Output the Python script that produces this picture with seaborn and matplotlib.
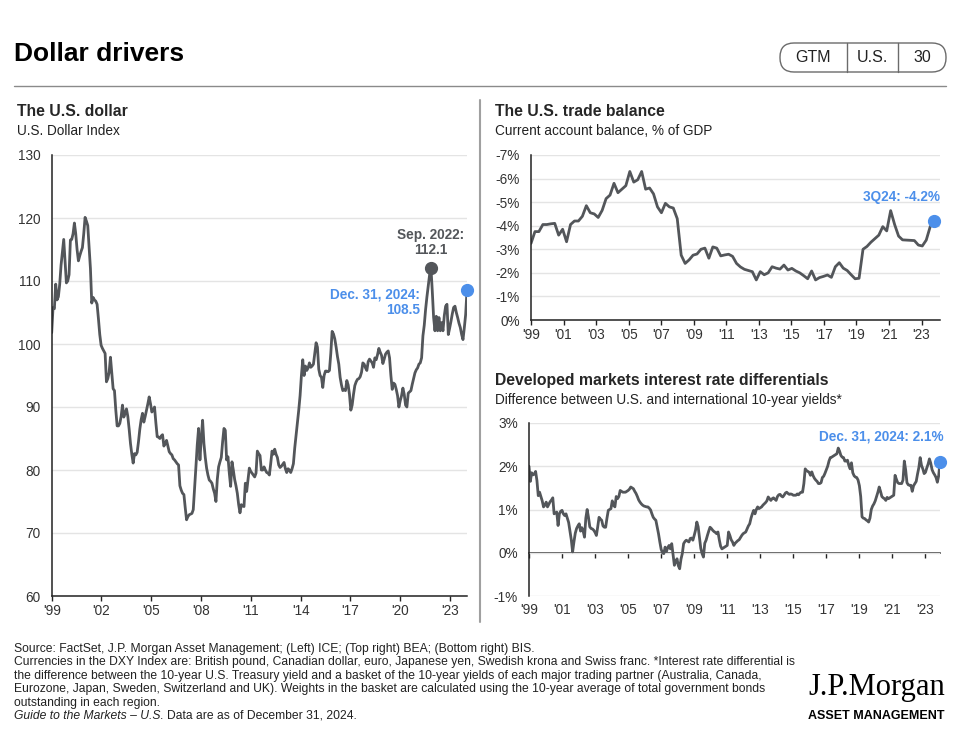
import numpy as np
import pandas as pd
import matplotlib
matplotlib.use("Agg")
import matplotlib.pyplot as plt
import seaborn as sns
from matplotlib import font_manager
from matplotlib.patches import FancyBboxPatch
from matplotlib.lines import Line2D
from matplotlib.transforms import IdentityTransform

# ---------------- data ----------------
# U.S. Dollar Index, monthly, Jan 1999 - Dec 2024
dxy = [101.8, 105.8, 105.6, 109.5, 107.0, 107.5, 109.5, 112.5, 114.5, 116.6,
       113.0, 109.7, 110.0, 111.0, 116.5, 116.6, 117.5, 119.2, 117.5, 115.0,
       113.2, 114.0, 114.7, 115.3, 117.5, 120.1, 119.5, 118.8, 115.5, 112.0,
       106.5, 107.4, 107.0, 106.8, 106.3, 104.0, 101.5, 99.8, 99.3, 98.9,
       98.5, 94.0, 94.5, 95.5, 97.9, 95.5, 92.9, 92.6, 89.5, 87.0,
       87.0, 87.4, 88.5, 90.3, 88.4, 89.0, 89.7, 88.5, 86.5, 84.2,
       82.5, 81.1, 82.6, 82.4, 82.8, 84.5, 86.5, 88.0, 89.0, 87.6,
       88.5, 89.5, 90.5, 91.6, 90.5, 89.2, 89.5, 90.0, 87.5, 85.3,
       85.2, 85.0, 85.4, 85.6, 83.8, 84.2, 84.7, 83.8, 82.9, 82.6,
       82.4, 81.8, 81.6, 81.3, 81.0, 80.8, 77.5, 76.8, 76.3, 76.1,
       74.0, 72.1, 72.6, 72.9, 73.0, 73.1, 73.7, 77.0, 80.5, 84.0,
       86.6, 81.6, 85.0, 87.9, 84.2, 82.0, 80.3, 79.2, 78.4, 78.2,
       77.9, 77.0, 76.3, 75.0, 78.5, 80.5, 81.3, 82.0, 84.5, 86.6,
       86.3, 81.6, 82.1, 79.5, 77.4, 81.3, 80.0, 78.5, 77.5, 76.3,
       74.5, 73.2, 74.5, 74.3, 74.2, 77.9, 76.6, 78.5, 80.3, 79.8,
       79.5, 79.2, 78.9, 79.5, 83.0, 82.6, 82.3, 80.0, 80.0, 80.5,
       80.0, 79.6, 79.5, 79.2, 81.0, 83.0, 82.5, 83.3, 82.5, 82.0,
       80.8, 80.4, 80.6, 80.9, 81.2, 80.2, 79.6, 80.2, 80.0, 79.6,
       80.2, 81.0, 83.5, 85.5, 87.5, 89.5, 91.8, 95.0, 97.5, 95.0,
       96.5, 95.8, 96.2, 97.0, 96.3, 96.5, 96.8, 98.5, 100.2, 99.5,
       96.0, 95.0, 94.7, 93.1, 95.0, 95.7, 95.7, 95.6, 95.8, 98.5,
       102.0, 101.6, 100.8, 99.5, 98.0, 96.8, 94.7, 93.5, 92.6, 92.8,
       92.6, 94.2, 93.5, 92.0, 89.5, 90.3, 92.0, 93.4, 94.0, 94.4,
       94.5, 94.8, 95.5, 97.0, 96.8, 96.2, 95.8, 97.2, 97.6, 97.3,
       97.0, 96.3, 97.8, 97.5, 98.3, 99.3, 98.7, 98.2, 96.9, 97.6,
       98.4, 98.7, 98.9, 97.8, 95.0, 92.8, 93.8, 93.6, 92.8, 91.8,
       90.0, 91.0, 91.8, 93.0, 92.0, 90.3, 90.0, 92.2, 92.4, 92.6,
       93.6, 94.5, 95.4, 95.9, 96.2, 96.8, 97.0, 97.8, 101.3, 103.0,
       105.5, 107.5, 109.2, 111.0, 112.1, 108.4, 104.2, 102.1, 104.4, 102.1,
       104.2, 102.1, 103.4, 102.1, 104.5, 106.0, 106.3, 101.5, 102.5, 103.6,
       104.8, 105.8, 106.0, 105.0, 104.2, 103.3, 102.6, 101.5, 100.7, 102.6,
       104.7, 108.5]
dxy_start = "1999-01"
dxy_peak_month = "2022-09"

# Current account balance, % of GDP, quarterly, 1Q99 - 3Q24
trade = [-3.25, -3.75, -3.75, -4.05, -4.05, -4.08, -4.1, -3.6, -3.85, -3.32,
         -4.05, -4.2, -4.2, -4.4, -4.85, -4.55, -4.5, -4.35, -4.65, -5.15,
         -5.3, -5.8, -5.4, -5.55, -5.7, -6.3, -5.85, -5.95, -6.3, -5.55,
         -5.6, -5.35, -4.8, -4.55, -4.95, -4.8, -4.75, -4.3, -2.75, -2.4,
         -2.55, -2.75, -2.8, -3.0, -3.05, -2.62, -3.1, -3.05, -2.72, -2.76,
         -2.79, -2.7, -2.4, -2.25, -2.15, -2.1, -2.05, -1.7, -2.05, -1.92,
         -2.0, -2.26, -2.2, -2.16, -2.33, -2.12, -2.19, -2.08, -2.0, -1.88,
         -1.75, -2.08, -1.7, -1.8, -1.85, -1.91, -1.81, -2.26, -2.43, -2.2,
         -2.1, -1.92, -1.75, -1.77, -3.0, -3.12, -3.3, -3.45, -3.6, -3.96,
         -3.78, -4.64, -4.05, -3.56, -3.4, -3.39, -3.38, -3.37, -3.18, -3.14,
         -3.39, -3.96, -4.2]
trade_start = "1999Q1"

# U.S. minus international 10-year yields, %, monthly, Jan 1999 - Dec 2024
rates = [2.0, 1.65, 1.85, 1.8, 1.82, 1.88, 1.67, 1.32, 1.4, 1.3,
         1.2, 1.06, 1.1, 1.17, 1.06, 1.12, 1.18, 1.22, 1.27, 0.9,
         0.92, 0.94, 0.63, 0.9, 0.96, 0.98, 0.9, 0.86, 0.9, 0.8,
         0.7, 0.5, 0.3, 0.02, 0.25, 0.45, 0.56, 0.62, 0.67, 0.5,
         0.58, 0.5, 0.36, 0.8, 1.0, 0.82, 0.6, 0.56, 0.55, 0.52,
         0.47, 0.4, 0.6, 0.82, 0.78, 0.75, 0.62, 0.59, 0.59, 0.8,
         0.98, 1.0, 1.02, 1.2, 1.1, 1.06, 1.3, 1.25, 1.3, 1.44,
         1.42, 1.4, 1.4, 1.4, 1.42, 1.44, 1.47, 1.52, 1.5, 1.48,
         1.42, 1.37, 1.3, 1.22, 1.17, 1.13, 1.1, 1.08, 1.07, 1.06,
         1.06, 1.03, 0.99, 0.9, 0.82, 0.78, 0.75, 0.6, 0.44, 0.25,
         0.08, 0.0, -0.02, 0.13, 0.03, 0.12, 0.17, 0.09, 0.21, -0.05,
         -0.29, -0.2, -0.14, -0.3, -0.37, -0.15, -0.02, 0.21, 0.26, 0.29,
         0.27, 0.25, 0.33, 0.34, 0.29, 0.4, 0.52, 0.71, 0.6, 0.35,
         0.1, -0.02, -0.1, 0.22, 0.29, 0.4, 0.5, 0.59, 0.56, 0.52,
         0.49, 0.47, 0.44, 0.48, 0.3, 0.15, 0.09, 0.11, 0.13, 0.15,
         0.17, 0.48, 0.4, 0.3, 0.25, 0.17, 0.22, 0.25, 0.28, 0.3,
         0.35, 0.4, 0.44, 0.46, 0.48, 0.55, 0.62, 0.67, 0.8, 0.9,
         0.98, 0.9, 1.0, 1.06, 1.02, 1.04, 1.06, 1.1, 1.13, 1.16,
         1.2, 1.29, 1.25, 1.21, 1.25, 1.27, 1.24, 1.21, 1.3, 1.34,
         1.35, 1.31, 1.29, 1.33, 1.38, 1.4, 1.37, 1.35, 1.36, 1.35,
         1.33, 1.33, 1.33, 1.36, 1.34, 1.38, 1.4, 1.4, 1.6, 1.94,
         1.9, 1.88, 1.86, 1.79, 1.87, 1.78, 1.72, 1.68, 1.65, 1.6,
         1.6, 1.62, 1.74, 1.77, 1.84, 1.92, 2.0, 2.12, 2.2, 2.21,
         2.23, 2.25, 2.27, 2.29, 2.42, 2.35, 2.25, 2.21, 2.2, 2.12,
         2.12, 2.14, 2.02, 1.94, 2.08, 1.85, 1.78, 1.75, 1.74, 1.68,
         1.55, 1.3, 0.83, 0.8, 0.79, 0.76, 0.74, 0.71, 0.8, 1.0,
         1.08, 1.13, 1.2, 1.3, 1.4, 1.52, 1.42, 1.3, 1.27, 1.25,
         1.21, 1.28, 1.25, 1.27, 1.29, 1.31, 1.33, 1.79, 1.7, 1.62,
         1.6, 1.6, 1.6, 1.68, 2.12, 1.92, 1.62, 1.57, 1.56, 1.56,
         1.42, 1.55, 1.6, 1.65, 1.82, 1.97, 2.2, 2.02, 1.94, 1.83,
         1.86, 1.96, 2.05, 2.17, 2.07, 1.92, 1.85, 1.8, 1.74, 1.63,
         1.78, 2.1]
rates_start = "1999-01"

year_labels_3 = ["'99", "'02", "'05", "'08", "'11", "'14", "'17", "'20", "'23"]
year_labels_2 = ["'99", "'01", "'03", "'05", "'07", "'09", "'11", "'13",
                 "'15", "'17", "'19", "'21", "'23"]

assert len(dxy) == 312 and len(rates) == 312 and len(trade) == 103

# ---------------- frames ----------------
def month_frame(values, start):
    d = pd.period_range(start, periods=len(values), freq="M")
    return pd.DataFrame({"period": d.astype(str),
                         "t": d.year + (d.month - 1) / 12, "v": values})

dxy_df = month_frame(dxy, dxy_start)
rates_df = month_frame(rates, rates_start)
q = pd.period_range(trade_start, periods=len(trade), freq="Q")
trade_df = pd.DataFrame({"t": q.year + (q.quarter - 1) / 4, "v": trade})

# ---------------- style ----------------
def has_font(name):
    try:
        font_manager.findfont(name, fallback_to_default=False)
        return True
    except Exception:
        return False

sns.set_theme(style="white")
plt.rcParams["font.family"] = ["Liberation Sans", "DejaVu Sans"]
NARROW = "Liberation Sans Narrow" if has_font("Liberation Sans Narrow") else "Liberation Sans"
SERIF = "Liberation Serif"

LINE = "#53565a"
BLUE = "#4c8fea"
GRID = "#e4e4e4"
DARK = "#222222"
TICK = "#333333"

W, H = 960, 749
fig = plt.figure(figsize=(9.6, 7.49), dpi=100)
fig.patch.set_facecolor("white")


def fx(x):
    return x / W


def fy(y):
    return 1 - y / H


def style(ax):
    for s in ["top", "right"]:
        ax.spines[s].set_visible(False)
    for s in ["left", "bottom"]:
        ax.spines[s].set_color(DARK)
        ax.spines[s].set_linewidth(1.1)
    ax.grid(axis="y", color=GRID, lw=1)
    ax.grid(axis="x", visible=False)
    ax.tick_params(axis="y", length=0, pad=8, labelsize=9.8, labelcolor=TICK)
    ax.tick_params(axis="x", length=3.5, width=1, color=DARK, direction="out",
                   pad=2, labelsize=9.8, labelcolor=TICK, bottom=True)
    ax.set_xlabel("")
    ax.set_ylabel("")


# ---------------- left: U.S. dollar ----------------
ax1 = fig.add_axes([fx(51.7), fy(596), fx(467 - 51.7), (596 - 155) / H])
sns.lineplot(data=dxy_df, x="t", y="v", ax=ax1, color=LINE, linewidth=2.0)
style(ax1)
ax1.set_ylim(60, 130)
ax1.set_yticks(range(60, 131, 10))
ax1.set_xlim(dxy_df.t.iloc[0], dxy_df.t.iloc[-1])
ax1.set_xticks(np.linspace(1999, 2023.85, len(year_labels_3)))
ax1.set_xticklabels(year_labels_3)

peak = dxy_df[dxy_df.period == dxy_peak_month].iloc[0]
last = dxy_df.iloc[-1]
ax1.plot(peak.t, peak.v, "o", color=LINE, ms=8.5, clip_on=False, zorder=5)
ax1.plot(last.t, last.v, "o", color=BLUE, ms=8.5, clip_on=False, zorder=5)
ax1.annotate(f"Sep. 2022:\n{peak.v:.1f}", (peak.t, peak.v), xytext=(0, 7.5),
             textcoords="offset points", ha="center", va="bottom",
             fontsize=9.8, fontweight="bold", color=LINE, linespacing=1.15)
ax1.annotate(f"Dec. 31, 2024:\n{last.v:.1f}", (last.t, last.v),
             xytext=(-34, 2), textcoords="offset points", ha="right",
             va="top", fontsize=9.8, fontweight="bold", color=BLUE,
             linespacing=1.15)

# ---------------- top right: trade balance ----------------
ax2 = fig.add_axes([fx(531), fy(320), fx(940 - 531), (320 - 155) / H])
sns.lineplot(data=trade_df, x="t", y="v", ax=ax2, color=LINE, linewidth=2.0)
style(ax2)
ax2.set_ylim(0, -7)
ax2.set_yticks(range(0, -8, -1))
ax2.set_yticklabels([f"{v}%" for v in range(0, -8, -1)])
ax2.set_xlim(trade_df.t.iloc[0], trade_df.t.iloc[-1] + 0.37)
ax2.set_xticks(np.linspace(1999, 2023.7, len(year_labels_2)))
ax2.set_xticklabels(year_labels_2)
tl = trade_df.iloc[-1]
ax2.plot(tl.t, tl.v, "o", color=BLUE, ms=8.5, clip_on=False, zorder=5)
ax2.annotate(f"3Q24: {tl.v:.1f}%", (tl.t, tl.v), xytext=(4.5, 17),
             textcoords="offset points", ha="right", va="center",
             fontsize=9.8, fontweight="bold", color=BLUE)

# ---------------- bottom right: rate differentials ----------------
ax3 = fig.add_axes([fx(529), fy(596), fx(940 - 529), (596 - 423) / H])
sns.lineplot(data=rates_df, x="t", y="v", ax=ax3, color=LINE, linewidth=2.0)
style(ax3)
ax3.set_ylim(-1, 3)
ax3.set_yticks(range(-1, 4))
ax3.set_yticklabels([f"{v}%" for v in range(-1, 4)])
ax3.set_xlim(rates_df.t.iloc[0], rates_df.t.iloc[-1])
ticks3 = np.linspace(1999, 2024.0, len(year_labels_2))
ax3.set_xticks(ticks3)
ax3.set_xticklabels(year_labels_2)
ax3.spines["bottom"].set_visible(False)
ax3.tick_params(axis="x", length=0, pad=5)
zero = ax3.secondary_xaxis(0.25)
zero.set_xticks(ticks3)
zero.tick_params(axis="x", length=3.5, width=1, color=DARK, labelbottom=False)
zero.spines["bottom"].set_color(DARK)
zero.spines["bottom"].set_linewidth(1.1)
rl = rates_df.iloc[-1]
ax3.plot(rl.t, rl.v, "o", color=BLUE, ms=8.5, clip_on=False, zorder=5)
ax3.annotate(f"Dec. 31, 2024: {rl.v:.1f}%", (rl.t, rl.v), xytext=(2.5, 18),
             textcoords="offset points", ha="right", va="center",
             fontsize=9.8, fontweight="bold", color=BLUE)

# ---------------- page furniture ----------------
fig.text(fx(14), fy(54), "Dollar drivers", fontsize=19, fontweight="bold",
         color="black", va="center")
fig.add_artist(Line2D([fx(14), fx(946)], [fy(86), fy(86)], color="#8a8a8a", lw=1))
fig.add_artist(Line2D([fx(480), fx(480)], [fy(100), fy(622)], color="#a0a0a0", lw=1.5))

box = FancyBboxPatch((780, H - 72), 166, 29, boxstyle="round,pad=0,rounding_size=14",
                     transform=IdentityTransform(), facecolor="white",
                     edgecolor="#6b6b6b", lw=1)
fig.add_artist(box)
for xd in (847, 898):
    fig.add_artist(Line2D([fx(xd), fx(xd)], [fy(43), fy(72)], color="#6b6b6b", lw=1))
for xc, s in ((813, "GTM"), (872, "U.S."), (922, "30")):
    fig.text(fx(xc), fy(58), s, fontsize=11.5, ha="center", va="center", color=DARK)

fig.text(fx(17), fy(112), "The U.S. dollar", fontsize=11.3, fontweight="bold", va="center")
fig.text(fx(17), fy(131), "U.S. Dollar Index", fontsize=9.8, va="center", color=DARK)
fig.text(fx(495), fy(112), "The U.S. trade balance", fontsize=11.3, fontweight="bold", va="center")
fig.text(fx(495), fy(131), "Current account balance, % of GDP", fontsize=9.8,
         va="center", color=DARK)
fig.text(fx(495), fy(381), "Developed markets interest rate differentials", fontsize=11.3,
         fontweight="bold", va="center")
fig.text(fx(495), fy(400), "Difference between U.S. and international 10-year yields*",
         fontsize=9.8, va="center", color=DARK)

footer = [
    "Source: FactSet, J.P. Morgan Asset Management; (Left) ICE; (Top right) BEA; (Bottom right) BIS.",
    "Currencies in the DXY Index are: British pound, Canadian dollar, euro, Japanese yen, Swedish krona and Swiss franc. *Interest rate differential is",
    "the difference between the 10-year U.S. Treasury yield and a basket of the 10-year yields of each major trading partner (Australia, Canada,",
    "Eurozone, Japan, Sweden, Switzerland and UK). Weights in the basket are calculated using the 10-year average of total government bonds",
    "outstanding in each region.",
]
for i, line in enumerate(footer):
    fig.text(fx(14), fy(649 + 13.4 * i), line, fontsize=8.7, family=NARROW,
             va="center", color=DARK)
gt = fig.text(fx(14), fy(649 + 13.4 * 5), "Guide to the Markets \u2013 U.S.", fontsize=8.7,
              family=NARROW, style="italic", va="center", color=DARK)
renderer = fig.canvas.get_renderer()
bb = gt.get_window_extent(renderer)
fig.text(fx(bb.x1 + 3), fy(649 + 13.4 * 5), "Data are as of December 31, 2024.",
         fontsize=8.7, family=NARROW, va="center", color=DARK)

fig.text(fx(808), fy(688), "J.P.Morgan", fontsize=22, family=SERIF, va="center", color="black")
fig.text(fx(808), fy(716), "ASSET MANAGEMENT", fontsize=9, family=NARROW,
         fontweight="bold", va="center", color="black")

fig.savefig("out.png", dpi=100, facecolor="white")
